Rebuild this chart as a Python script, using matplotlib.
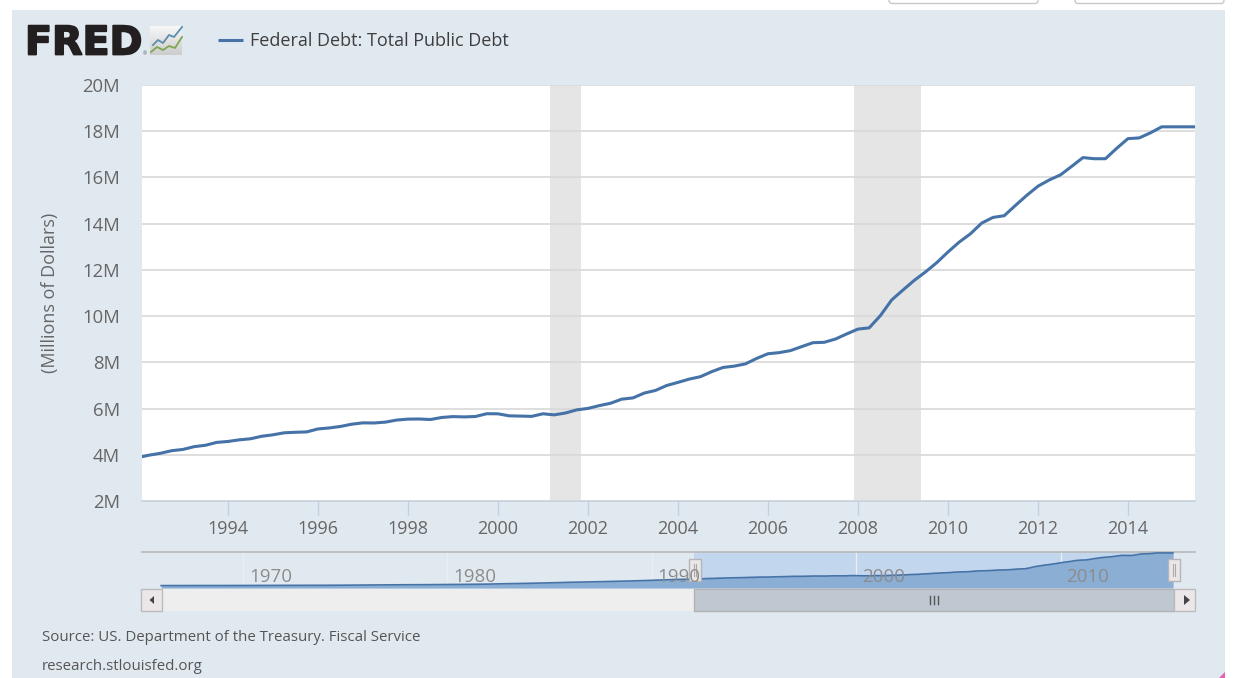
#!/usr/bin/env python3
import matplotlib
matplotlib.use("Agg")
import matplotlib.pyplot as plt
import matplotlib.patheffects as pe
import numpy as np
from matplotlib.patches import Rectangle, FancyBboxPatch, Polygon

# quarterly debt, millions of dollars, starting 1992 Q1
debt = [
    3881, 3984, 4065, 4177,
    4231, 4352, 4411, 4536,
    4576, 4646, 4692, 4801,
    4864, 4951, 4974, 4989,
    5118, 5161, 5225, 5323,
    5381, 5376, 5413, 5503,
    5543, 5548, 5526, 5614,
    5652, 5639, 5656, 5776,
    5773, 5686, 5674, 5662,
    5774, 5727, 5807, 5943,
    6006, 6126, 6228, 6406,
    6460, 6670, 6783, 6998,
    7132, 7274, 7379, 7596,
    7777, 7836, 7933, 8170,
    8371, 8420, 8507, 8680,
    8850, 8867, 9008, 9229,
    9438, 9492, 10025, 10700,
    11127, 11545, 11910, 12311,
    12773, 13202, 13562, 14025,
    14270, 14343, 14790, 15223,
    15620, 15890, 16110, 16480,
    16860, 16810, 16810, 17260,
    17680, 17710, 17930, 18190,
    18190, 18190, 18190,
]
dates = [1992 + i / 4 for i in range(len(debt))]

# navigator only: yearly values before the main series starts
early_years = list(range(1966, 1992))
early_debt = [320, 340, 360, 360, 380, 410, 440, 470, 480, 540, 630, 710, 780,
              830, 910, 1000, 1140, 1380, 1570, 1820, 2120, 2350, 2600, 2860,
              3200, 3600]

recessions = [(2001.16, 2001.84), (2007.91, 2009.40)]
y_ticks = [2, 4, 6, 8, 10, 12, 14, 16, 18, 20]
x_ticks = list(range(1994, 2016, 2))
nav_ticks = [1970, 1980, 1990, 2000, 2010]

W, H = 1235, 678
BG = "#e1e9f0"
LINE = "#4572a7"
TEXT = "#666666"

plt.rcParams["font.family"] = ["Open Sans", "DejaVu Sans"]
fig = plt.figure(figsize=(W / 100, H / 100), dpi=100, facecolor="white")


def box(left, top, right, bottom):
    # pixel box to figure fractions
    return [left / W, 1 - bottom / H, (right - left) / W, (bottom - top) / H]


# page furniture in pixel coordinates
page = fig.add_axes([0, 0, 1, 1])
page.axis("off")
page.add_patch(Rectangle((12, 10), 1213, 668, fc=BG, ec="none"))
for left, right in [(889, 1038), (1075, 1224)]:
    page.add_patch(FancyBboxPatch((left, -10), right - left, 13.5, boxstyle="round,pad=0,rounding_size=3",
                                  fc="white", ec="#c8c8c8", lw=1))

page.text(25, 43.5, "FRED", family="DejaVu Sans", weight="bold", fontsize=28.5, color="#231f20",
          va="center", ha="left", path_effects=[pe.withStroke(linewidth=1.3, foreground="#231f20")])
page.text(145, 54, "®", fontsize=3.5, color="#555555", ha="center", va="center")
page.imshow(np.linspace(0.97, 0.80, 30).reshape(-1, 1), cmap="gray", vmin=0, vmax=1, aspect="auto",
            extent=(150, 182, 55, 26), zorder=1)
page.plot([153, 158, 163, 169, 174, 182], [45, 40, 43, 35, 37, 27], color="#5b8db0", lw=1.3, zorder=2)
page.plot([151, 157, 163, 169, 175, 182], [52, 47, 50, 46, 48, 37], color="#7fa650", lw=1.3, zorder=2)

page.plot([218, 243], [39.5, 39.5], color=LINE, lw=2.2, solid_capstyle="butt")
page.text(250, 41.5, "Federal Debt: Total Public Debt", fontsize=13, color="#3e3e3e", va="center", ha="left")
page.text(42, 637.5, "Source: US. Department of the Treasury. Fiscal Service", fontsize=10.82, color="#555555", va="center")
page.text(42, 666.5, "research.stlouisfed.org", fontsize=10.82, color="#555555", va="center")
page.add_patch(Polygon([(1219, 678), (1225, 672), (1225, 678)], fc="#e85fb0", ec="none"))
page.set_xlim(0, W)
page.set_ylim(H, 0)

# main chart
ax = fig.add_axes(box(142, 85, 1195, 501), facecolor="white")
for start, end in recessions:
    ax.axvspan(start, end, color="#e5e5e5", lw=0, zorder=1)
ax.plot(dates, [v / 1000 for v in debt], color=LINE, lw=2.2, zorder=3, solid_joinstyle="round")
ax.set_xlim(1992.09, 2015.49)
ax.set_ylim(2, 20)
ax.set_yticks(y_ticks)
ax.set_yticklabels([f"{v}M" for v in y_ticks])
ax.set_xticks(x_ticks)
ax.grid(axis="y", color="#d8d8d8", lw=1.2, zorder=2)
ax.set_axisbelow(False)
for side in ["top", "right", "left"]:
    ax.spines[side].set_visible(False)
ax.spines["bottom"].set_color("#c0d0e0")
ax.spines["bottom"].set_linewidth(1.2)
ax.tick_params(axis="y", length=0, pad=16, labelsize=13.3, labelcolor=TEXT)
ax.tick_params(axis="x", length=10, width=1, color="#c0d0e0", pad=3.5, labelsize=13, labelcolor=TEXT)
ax.set_ylabel("(Millions of Dollars)", fontsize=13, color=TEXT)
ax.yaxis.set_label_coords(-0.0785, 0.5)

# navigator strip
nav = fig.add_axes(box(142, 552, 1195, 588), facecolor="none")
nav_x = early_years + dates
nav_y = [v / 1000 for v in early_debt + debt]
nav.set_xlim(1965.06, 2016.58)
nav.set_ylim(-1.0, 18.7)
sel_left, sel_right = 1992.06, 2015.56
nav.axvspan(sel_left, sel_right, color="#c2d6ee", lw=0, zorder=0)
for t in nav_ticks:
    nav.axvline(t, color="#e9eef3", lw=1, zorder=1)
nav.fill_between(nav_x, nav_y, -1.0, color="#8aaed4", lw=0, zorder=2)
nav.plot(nav_x, nav_y, color=LINE, lw=1.2, zorder=3)
nav.set_xticks([])
nav.set_yticks([])
for side in ["left", "right", "bottom"]:
    nav.spines[side].set_visible(False)
nav.spines["top"].set_color("#b8b8b8")
nav.spines["top"].set_linewidth(1.2)

# scrollbar
page2 = fig.add_axes([0, 0, 1, 1], facecolor="none")
page2.set_xlim(0, W)
page2.set_ylim(H, 0)
page2.axis("off")
page2.add_patch(Rectangle((162, 589), 532, 22, fc="#eeeeee", ec="none"))
page2.add_patch(Rectangle((694, 589), 480, 22, fc="#bfc8d1", ec="#b2b2b2", lw=1))
page2.add_patch(Rectangle((141, 589), 21, 22, fc="#ebe7e8", ec="#bbbbbb", lw=1))
page2.add_patch(Rectangle((1174, 589), 21, 22, fc="#ebe7e8", ec="#bbbbbb", lw=1))
page2.add_patch(Polygon([(149.5, 600), (154, 596), (154, 604)], fc="#444444", ec="none"))
page2.add_patch(Polygon([(1190, 600), (1184, 595), (1184, 605)], fc="#444444", ec="none"))
for x in [930, 934, 938]:
    page2.plot([x, x], [596, 604], color="#555555", lw=1)
for x in [694.5, 1174]:
    page2.add_patch(Rectangle((x - 6, 558.5), 12, 22.5, fc="#ebe7e8", ec="#b5b5b5", lw=1, zorder=5))
    for dx in [-1, 1]:
        page2.plot([x + dx, x + dx], [564, 576], color="#aaaaaa", lw=0.8, zorder=6)

# year labels sit above the handles
for t in nav_ticks:
    page2.text(t + 0.29, 0.1, str(t), transform=nav.transData, fontsize=13.5, color="#8c8c8c",
               ha="left", va="bottom", zorder=7)

fig.savefig("out.png", dpi=100, facecolor="white")
